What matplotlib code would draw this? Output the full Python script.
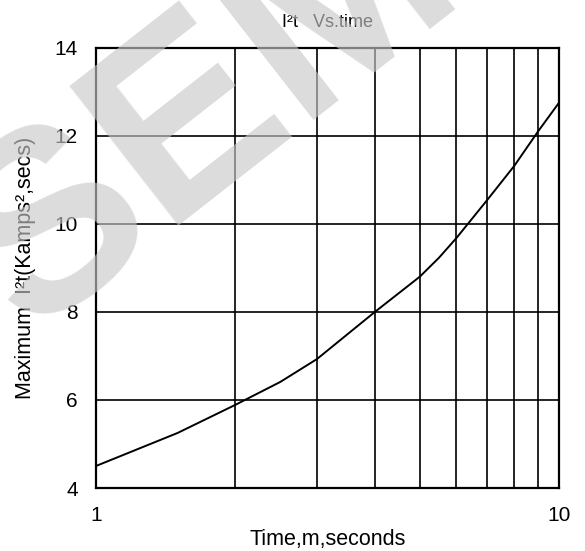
import numpy as np
import matplotlib.pyplot as plt

plt.rcParams['font.family'] = ['Liberation Sans', 'DejaVu Sans']

# values
time_ms = [1, 1.5, 2, 2.5, 3, 4, 5, 5.5, 6, 7, 8, 9, 10]
i2t = [4.5, 5.25, 5.89, 6.41, 6.93, 8.0, 8.80, 9.23, 9.68, 10.55, 11.32, 12.1, 12.76]
x_grid = [1, 2, 3, 4, 5, 6, 7, 8, 9, 10]
y_ticks = [4, 6, 8, 10, 12, 14]

fig = plt.figure(figsize=(5.85, 5.51), dpi=100)
ax = fig.add_axes([0.164, 0.1143, 0.792, 0.799])

ax.set_xscale('log')
ax.set_xlim(1, 10)
ax.set_ylim(4, 14)

for xv in x_grid:
    ax.axvline(xv, color='black', lw=1.2, zorder=1)
for yv in y_ticks:
    ax.axhline(yv, color='black', lw=1.2, zorder=1)

ax.plot(time_ms, i2t, color='black', lw=1.4, zorder=3)

ax.set_xticks([1, 10])
ax.set_xticklabels(['1', '10'])
ax.xaxis.set_minor_locator(plt.NullLocator())
ax.set_yticks(y_ticks)
ax.tick_params(axis='both', length=0, labelsize=15)
ax.tick_params(axis='x', pad=13)
ax.tick_params(axis='y', pad=13)

for s in ax.spines.values():
    s.set_linewidth(1.6)

ax.set_title('I²t   Vs.time', fontsize=13, pad=15)
ax.set_xlabel('Time,m,seconds', fontsize=15.5, labelpad=3)
ax.set_ylabel('Maximum  I²t(Kamps²,secs)', fontsize=15.5, labelpad=13)

# watermark
fig.text(0.05, 0.39, 'SEM', fontsize=185, fontweight='bold', color='#c8c8c8',
         alpha=0.64, rotation=38, rotation_mode='anchor', ha='left', va='baseline',
         zorder=10)

fig.savefig('out.png', dpi=100)
